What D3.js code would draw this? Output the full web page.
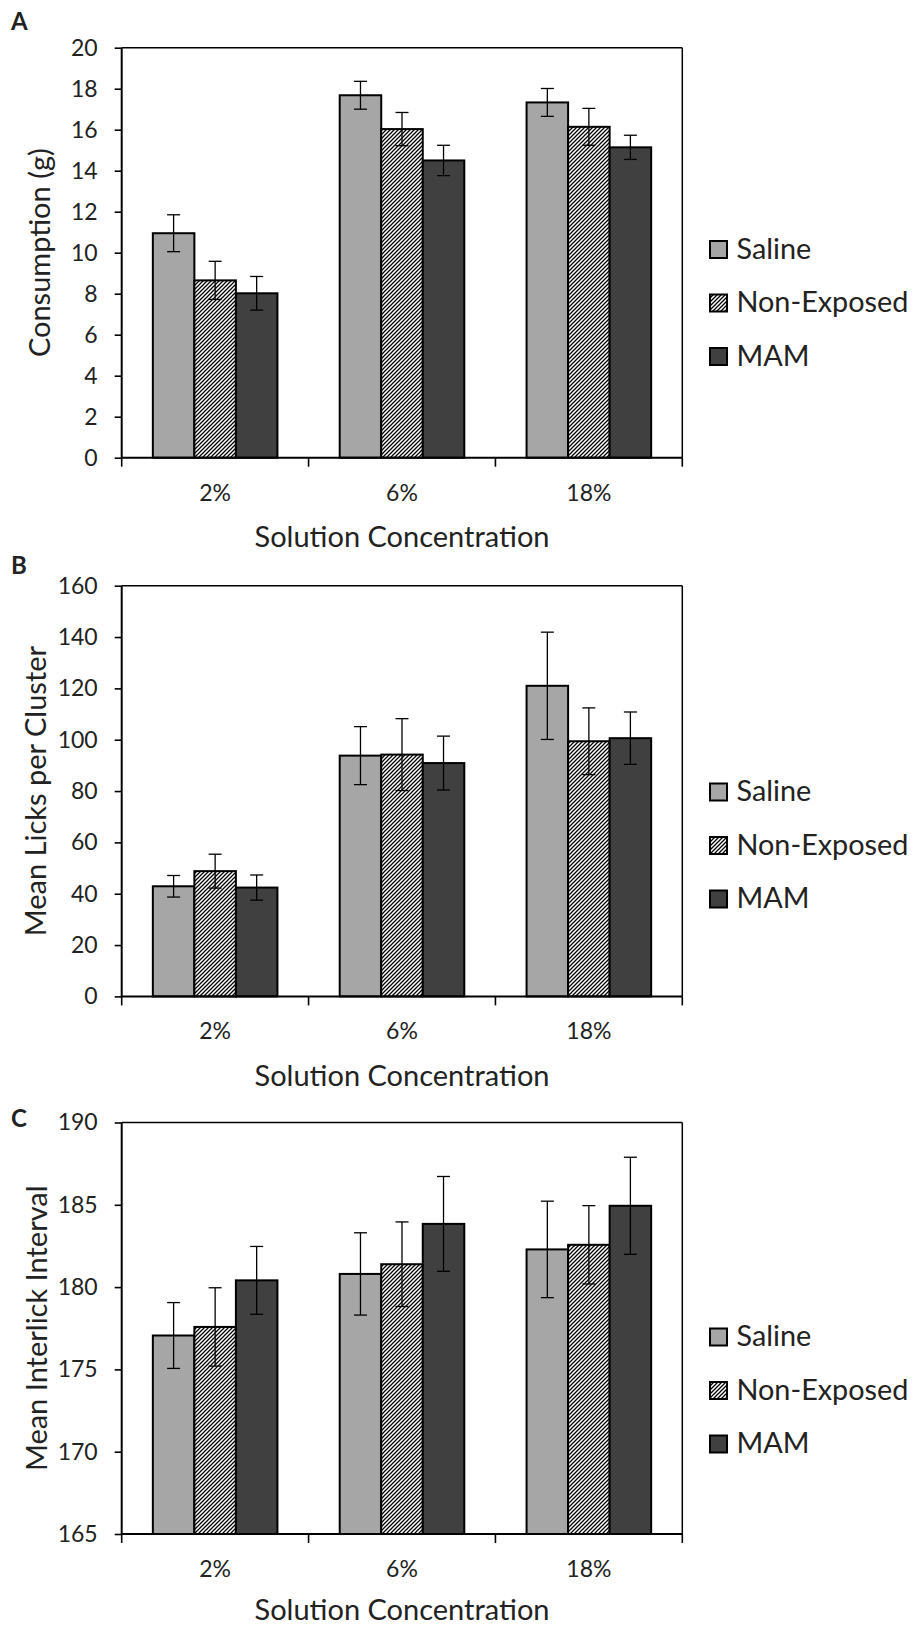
<!DOCTYPE html>
<html>
<head>
<meta charset="utf-8">
<script src="https://cdn.jsdelivr.net/npm/d3@7"></script>
<style>
  html, body { margin: 0; padding: 0; background: #fff; }
  svg { display: block; }
  text { font-family: "Lato", "Open Sans", sans-serif; fill: #222; }
</style>
</head>
<body>
<div id="chart"></div>
<script>
// ---------------- DATA ----------------
const categories = ["2%", "6%", "18%"];
const groups = ["Saline", "Non-Exposed", "MAM"];
const xAxisTitle = "Solution Concentration";

// Panel A: Consumption (g)
const consumptionSaline = [10.95, 17.68, 17.33];
const consumptionNonExposed = [8.65, 16.03, 16.14];
const consumptionMAM = [8.02, 14.5, 15.14];
const consumptionSalineErr = [0.9, 0.68, 0.68];
const consumptionNonExposedErr = [0.93, 0.81, 0.9];
const consumptionMAMErr = [0.82, 0.74, 0.59];
const consumptionTicks = [0, 2, 4, 6, 8, 10, 12, 14, 16, 18, 20];

// Panel B: Mean Licks per Cluster
const licksSaline = [42.9, 93.8, 121.0];
const licksNonExposed = [48.8, 94.2, 99.4];
const licksMAM = [42.4, 90.9, 100.6];
const licksSalineErr = [4.2, 11.3, 20.9];
const licksNonExposedErr = [6.6, 14.0, 13.0];
const licksMAMErr = [4.9, 10.5, 10.2];
const licksTicks = [0, 20, 40, 60, 80, 100, 120, 140, 160];

// Panel C: Mean Interlick Interval
const intervalSaline = [177.06, 180.8, 182.29];
const intervalNonExposed = [177.58, 181.39, 182.57];
const intervalMAM = [180.41, 183.84, 184.94];
const intervalSalineErr = [2.0, 2.5, 2.93];
const intervalNonExposedErr = [2.38, 2.57, 2.38];
const intervalMAMErr = [2.06, 2.88, 2.95];
const intervalTicks = [165, 170, 175, 180, 185, 190];

// ---------------- LAYOUT ----------------
const W = 914, H = 1627;
const plotLeft = 121.7, plotRight = 682.3;
const panels = [
  { label: "A", yTitle: "Consumption (g)", ticks: consumptionTicks,
    series: [consumptionSaline, consumptionNonExposed, consumptionMAM],
    errs: [consumptionSalineErr, consumptionNonExposedErr, consumptionMAMErr],
    top: 47.7, bottom: 457.7, labelY: 29.5, yTitleX: 50, legendY: 249.5, xTitleOff: 89 },
  { label: "B", yTitle: "Mean Licks per Cluster", ticks: licksTicks,
    series: [licksSaline, licksNonExposed, licksMAM],
    errs: [licksSalineErr, licksNonExposedErr, licksMAMErr],
    top: 585.7, bottom: 996.4, labelY: 574, yTitleX: 45.5, legendY: 792, xTitleOff: 90 },
  { label: "C", yTitle: "Mean Interlick Interval", ticks: intervalTicks,
    series: [intervalSaline, intervalNonExposed, intervalMAM],
    errs: [intervalSalineErr, intervalNonExposedErr, intervalMAMErr],
    top: 1122.5, bottom: 1534, labelY: 1127, yTitleX: 47, legendY: 1337, xTitleOff: 86 }
];

const fills = { "Saline": "#a6a6a6", "Non-Exposed": "url(#hatch)", "MAM": "#404040" };
const tickFont = 23, titleFont = 29, legendFont = 28.8;

const svg = d3.select("#chart").append("svg").attr("width", W).attr("height", H);

const defs = svg.append("defs");
const pat = defs.append("pattern").attr("id", "hatch")
  .attr("patternUnits", "userSpaceOnUse").attr("width", 4).attr("height", 4);
pat.append("rect").attr("width", 4).attr("height", 4).attr("fill", "#fff");
pat.append("path").attr("d", "M-1,1 L1,-1 M0,4 L4,0 M3,5 L5,3")
  .attr("stroke", "#000").attr("stroke-width", 1.25);

const x = d3.scaleBand().domain(categories).range([plotLeft, plotRight]).paddingInner(0).paddingOuter(0);
const xg = d3.scaleBand().domain(groups).range([0, x.bandwidth()]).paddingInner(0).paddingOuter(0.75);

panels.forEach(p => {
  const g = svg.append("g");
  const dom = [p.ticks[0], p.ticks[p.ticks.length - 1]];
  const y = d3.scaleLinear().domain(dom).range([p.bottom, p.top]);

  // bars
  groups.forEach((grp, gi) => {
    const vals = p.series[gi];
    g.append("g").selectAll("rect").data(categories).join("rect")
      .attr("x", c => x(c) + xg(grp))
      .attr("y", (c, i) => y(vals[i]))
      .attr("width", xg.bandwidth())
      .attr("height", (c, i) => y(dom[0]) - y(vals[i]))
      .attr("fill", fills[grp])
      .attr("stroke", "#000").attr("stroke-width", 2);
  });
  // error bars
  groups.forEach((grp, gi) => {
    const vals = p.series[gi], errs = p.errs[gi];
    const eb = g.append("g").attr("stroke", "#000").attr("stroke-width", 1.3).attr("fill", "none");
    categories.forEach((c, i) => {
      const cx = x(c) + xg(grp) + xg.bandwidth() / 2;
      const y1 = y(vals[i] + errs[i]), y0 = y(vals[i] - errs[i]);
      eb.append("line").attr("x1", cx).attr("x2", cx).attr("y1", y1).attr("y2", y0);
      eb.append("line").attr("x1", cx - 6.5).attr("x2", cx + 6.5).attr("y1", y1).attr("y2", y1);
      eb.append("line").attr("x1", cx - 6.5).attr("x2", cx + 6.5).attr("y1", y0).attr("y2", y0);
    });
  });

  // plot border top/right
  g.append("line").attr("x1", plotLeft).attr("x2", plotRight).attr("y1", p.top).attr("y2", p.top)
    .attr("stroke", "#000").attr("stroke-width", 1.5);
  g.append("line").attr("x1", plotRight).attr("x2", plotRight).attr("y1", p.top).attr("y2", p.bottom)
    .attr("stroke", "#000").attr("stroke-width", 1.5);

  // y axis
  const ya = g.append("g").attr("transform", `translate(${plotLeft},0)`)
    .call(d3.axisLeft(y).tickValues(p.ticks).tickSize(7).tickPadding(17).tickFormat(d3.format("d")));
  ya.select(".domain").remove();
  ya.selectAll(".tick line").attr("stroke", "#000").attr("stroke-width", 1.6);
  ya.selectAll(".tick text").attr("font-size", tickFont).attr("font-family", "Lato").attr("fill", "#262626");
  g.append("line").attr("x1", plotLeft).attr("x2", plotLeft).attr("y1", p.top).attr("y2", p.bottom)
    .attr("stroke", "#000").attr("stroke-width", 2);

  // x axis
  const xa = g.append("g").attr("transform", `translate(0,${p.bottom})`)
    .call(d3.axisBottom(x).tickSize(0));
  xa.select(".domain").remove();
  xa.selectAll(".tick text").attr("y", 43).attr("dy", 0)
    .attr("font-size", tickFont).attr("font-family", "Lato").attr("fill", "#262626");
  g.append("line").attr("x1", plotLeft).attr("x2", plotRight).attr("y1", p.bottom).attr("y2", p.bottom)
    .attr("stroke", "#000").attr("stroke-width", 2);
  const bounds = categories.map(c => x(c)).concat([x.range()[1]]);
  g.append("g").selectAll("line").data(bounds).join("line")
    .attr("x1", d => d).attr("x2", d => d).attr("y1", p.bottom).attr("y2", p.bottom + 9)
    .attr("stroke", "#000").attr("stroke-width", 1.6);

  // x title
  g.append("text").attr("x", (plotLeft + plotRight) / 2).attr("y", p.bottom + p.xTitleOff)
    .attr("text-anchor", "middle").attr("font-size", titleFont).text(xAxisTitle);

  // y title
  g.append("text")
    .attr("transform", `translate(${p.yTitleX},${(p.top + p.bottom) / 2}) rotate(-90)`)
    .attr("text-anchor", "middle").attr("font-size", titleFont).text(p.yTitle);

  // panel label
  g.append("text").attr("x", 11).attr("y", p.labelY).attr("font-size", 24)
    .attr("font-weight", "bold").attr("fill", "#000").text(p.label);

  // legend
  const lg = g.append("g");
  groups.forEach((grp, gi) => {
    const cy = p.legendY + gi * 53.5;
    lg.append("rect").attr("x", 710).attr("y", cy - 8.5).attr("width", 17).attr("height", 17)
      .attr("fill", fills[grp]).attr("stroke", "#000").attr("stroke-width", 2);
    lg.append("text").attr("x", 736.5).attr("y", cy + 9).attr("font-size", legendFont).text(grp);
  });
});
</script>
</body>
</html>
